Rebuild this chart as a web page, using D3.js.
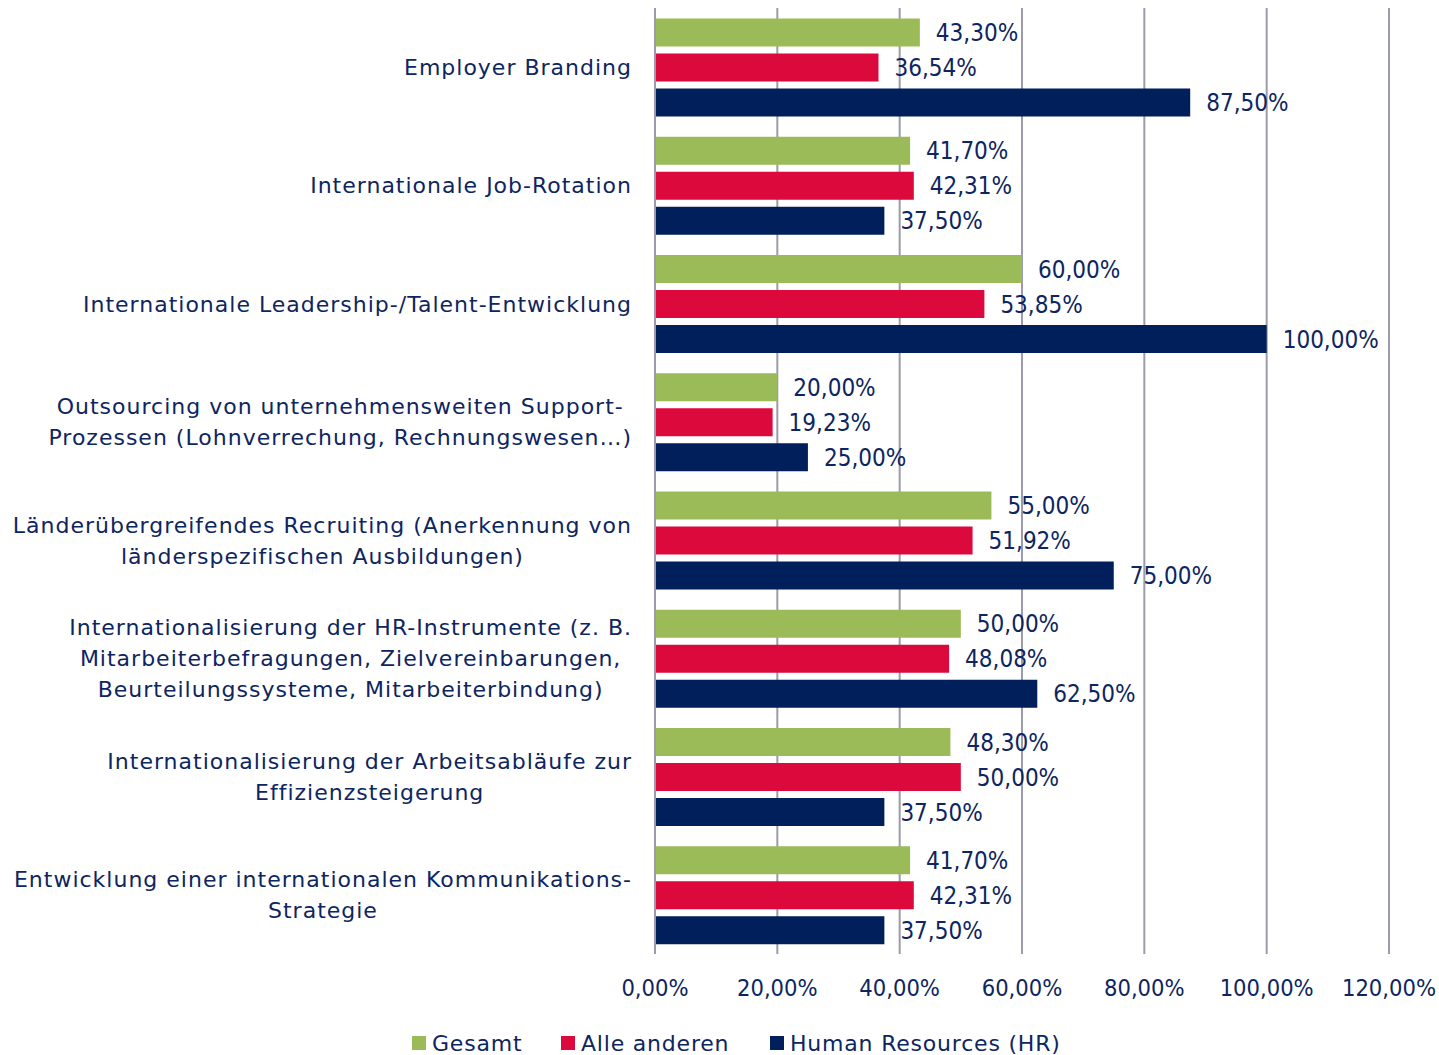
<!DOCTYPE html>
<html><head><meta charset="utf-8">
<script src="https://cdn.jsdelivr.net/npm/d3@7"></script>
<style>body{margin:0;background:#fff}svg{display:block}</style>
</head><body>
<svg id="c" width="1439" height="1055"></svg>
<script>
const categories = [
  ["Employer Branding"],
  ["Internationale Job-Rotation"],
  ["Internationale Leadership-/Talent-Entwicklung"],
  ["Outsourcing von unternehmensweiten Support-", "Prozessen (Lohnverrechung, Rechnungswesen…)"],
  ["Länderübergreifendes Recruiting (Anerkennung von", "länderspezifischen Ausbildungen)"],
  ["Internationalisierung der HR-Instrumente (z. B.", "Mitarbeiterbefragungen, Zielvereinbarungen,", "Beurteilungssysteme, Mitarbeiterbindung)"],
  ["Internationalisierung der Arbeitsabläufe zur", "Effizienzsteigerung"],
  ["Entwicklung einer internationalen Kommunikations-", "Strategie"]
];
const seriesNames = ["Gesamt", "Alle anderen", "Human Resources (HR)"];
const gesamt = [43.30, 41.70, 60.00, 20.00, 55.00, 50.00, 48.30, 41.70];
const alleAnderen = [36.54, 42.31, 53.85, 19.23, 51.92, 48.08, 50.00, 42.31];
const humanResources = [87.50, 37.50, 100.00, 25.00, 75.00, 62.50, 37.50, 37.50];
const tickValues = [0, 20, 40, 60, 80, 100, 120];
const colors = ["#9bbb59", "#dc0a3c", "#001f5b"];

const series = [gesamt, alleAnderen, humanResources];
const textColor = "#0d2560";
const font = "'DejaVu Sans', sans-serif";
const numFont = "'DejaVu Sans Condensed', 'DejaVu Sans', sans-serif";
const fs = 22;

const svg = d3.select("#c");
const x = d3.scaleLinear().domain([0, 120]).range([655, 1389]);
const y = d3.scaleBand().domain(d3.range(categories.length)).range([8, 954]).paddingInner(0).paddingOuter(0);
const yInner = d3.scaleBand().domain(d3.range(3)).range([10.5, 108.5]).paddingInner(0.2).paddingOuter(0);

// gridlines
svg.append("g").selectAll("line").data(tickValues).join("line")
  .attr("x1", d => x(d)).attr("x2", d => x(d))
  .attr("y1", 8).attr("y2", 954)
  .attr("stroke", "#9b9bab").attr("stroke-width", 2);

// bars
const groups = svg.append("g").selectAll("g").data(categories).join("g")
  .attr("transform", (d, i) => `translate(0,${y(i)})`);

series.forEach((vals, s) => {
  groups.append("rect")
    .attr("x", x(0) + 1)
    .attr("y", yInner(s))
    .attr("width", (d, i) => x(vals[i]) - x(0) - 1)
    .attr("height", yInner.bandwidth())
    .attr("fill", colors[s]);
  groups.append("text")
    .attr("x", (d, i) => x(vals[i]) + 16)
    .attr("y", yInner(s) + yInner.bandwidth() / 2)
    .attr("dy", "0.36em")
    .attr("font-family", numFont).attr("font-size", 24)
    .attr("fill", textColor)
    .text((d, i) => vals[i].toFixed(2).replace(".", ",") + "%");
});

// category labels
groups.each(function(lines, i) {
  const g = d3.select(this);
  const lh = 31;
  const cy = y.bandwidth() / 2;
  const t = g.append("text")
    .attr("font-family", font).attr("font-size", fs).attr("fill", textColor)
    .attr("letter-spacing", 1)
    .attr("text-anchor", "middle");
  const tspans = lines.map((l, k) => t.append("tspan").text(l)
    .attr("y", cy + (k - (lines.length - 1) / 2) * lh).attr("dy", "0.36em"));
  let maxW = 0;
  tspans.forEach(ts => { maxW = Math.max(maxW, ts.node().getComputedTextLength()); });
  tspans.forEach(ts => ts.attr("x", 632 - maxW / 2));
});

// x axis tick labels
svg.append("g").selectAll("text").data(tickValues).join("text")
  .attr("x", d => x(d)).attr("y", 988).attr("dy", "0.36em")
  .attr("text-anchor", "middle")
  .attr("font-family", numFont).attr("font-size", 23.5).attr("fill", textColor)
  .text(d => d.toFixed(2).replace(".", ",") + "%");

// legend
const legendX = [412, 561, 770];
const lg = svg.append("g").selectAll("g").data(seriesNames).join("g")
  .attr("transform", (d, i) => `translate(${legendX[i]},1043)`);
lg.append("rect").attr("x", 0).attr("y", -7).attr("width", 14).attr("height", 14)
  .attr("fill", (d, i) => colors[i]);
lg.append("text").attr("x", 20).attr("dy", "0.36em")
  .attr("font-family", font).attr("font-size", fs).attr("fill", textColor)
  .attr("letter-spacing", 0.8)
  .text(d => d);
</script>
</body></html>
